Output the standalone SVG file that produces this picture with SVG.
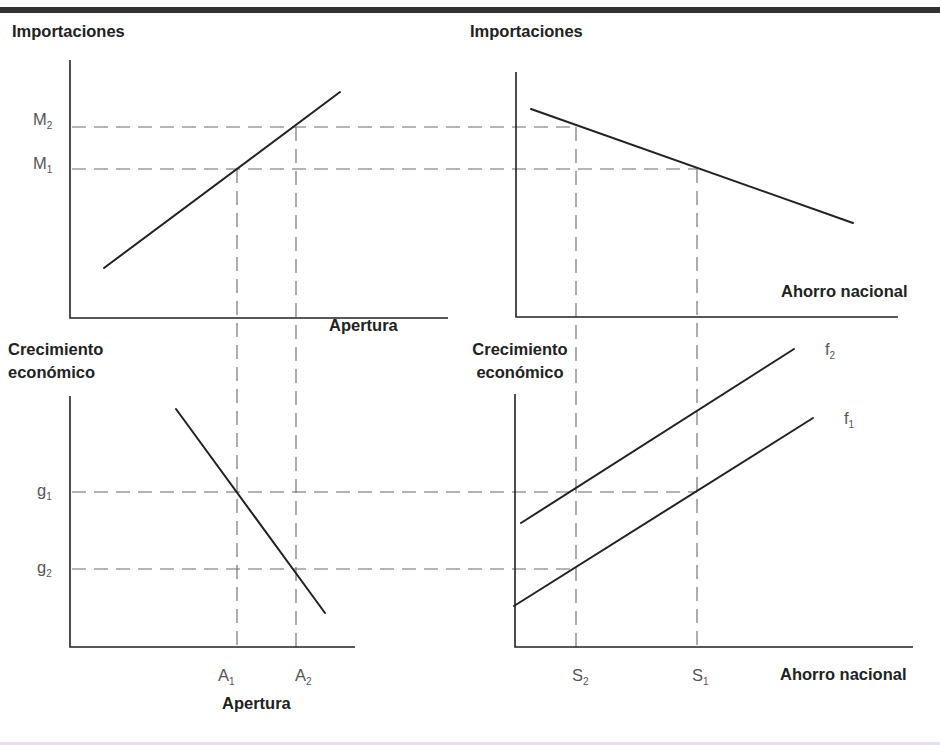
<svg xmlns="http://www.w3.org/2000/svg" width="940" height="745" viewBox="0 0 940 745">
<style>
.bg{fill:#ffffff}
.axis{stroke:#222;stroke-width:1.6;fill:none}
.curve{stroke:#222;stroke-width:2;fill:none;stroke-linecap:round}
.guide{stroke:#6a6a6a;stroke-width:1.1;fill:none;stroke-dasharray:14 8}
.ttl{font-family:"Liberation Sans",Arial,sans-serif;font-weight:bold;font-size:16.5px;fill:#222}
.lbl{font-family:"Liberation Sans",Arial,sans-serif;font-size:16.5px;fill:#555}
.sub{font-size:10px}
</style>
<rect class="bg" x="0" y="0" width="940" height="745"/>
<rect x="0" y="7" width="940" height="6" fill="#333"/>
<rect x="0" y="742" width="940" height="3" fill="#e8deef"/>

<g id="guides">
<line class="guide" x1="72" y1="127" x2="576" y2="127"/>
<line class="guide" x1="72" y1="169" x2="697" y2="169"/>
<line class="guide" x1="72" y1="492" x2="697" y2="492"/>
<line class="guide" x1="72" y1="569" x2="575" y2="569"/>
<line class="guide" x1="237" y1="169" x2="237" y2="647"/>
<line class="guide" x1="296" y1="127" x2="296" y2="647"/>
<line class="guide" x1="576" y1="127" x2="576" y2="647"/>
<line class="guide" x1="697" y1="169" x2="697" y2="647"/>
</g>

<g id="panel-top-left">
<text class="ttl" x="12" y="37">Importaciones</text>
<polyline class="axis" points="70,60 70,318 448,318"/>
<line class="curve" x1="104" y1="268" x2="340" y2="92"/>
<text class="lbl" x="33" y="125">M<tspan class="sub" dy="4">2</tspan></text>
<text class="lbl" x="33" y="169">M<tspan class="sub" dy="4">1</tspan></text>
<text class="ttl" x="329" y="331">Apertura</text>
</g>

<g id="panel-top-right">
<text class="ttl" x="470" y="37">Importaciones</text>
<polyline class="axis" points="516,72 516,317 898,317"/>
<line class="curve" x1="531" y1="109" x2="853" y2="223"/>
<text class="ttl" x="781" y="297">Ahorro nacional</text>
</g>

<g id="panel-bottom-left">
<text class="ttl" x="8" y="355">Crecimiento</text>
<text class="ttl" x="8" y="378">económico</text>
<polyline class="axis" points="70,396 70,647 355,647"/>
<line class="curve" x1="176" y1="409" x2="325" y2="613"/>
<text class="lbl" x="37" y="496">g<tspan class="sub" dy="4">1</tspan></text>
<text class="lbl" x="37" y="573">g<tspan class="sub" dy="4">2</tspan></text>
<text class="lbl" x="218" y="681">A<tspan class="sub" dy="4">1</tspan></text>
<text class="lbl" x="295" y="681">A<tspan class="sub" dy="4">2</tspan></text>
<text class="ttl" x="222" y="709">Apertura</text>
</g>

<g id="panel-bottom-right">
<text class="ttl" x="520" y="355" text-anchor="middle">Crecimiento</text>
<text class="ttl" x="520" y="378" text-anchor="middle">económico</text>
<polyline class="axis" points="515,394 515,647 913,647"/>
<line class="curve" x1="521" y1="523" x2="794" y2="349"/>
<line class="curve" x1="514" y1="606" x2="813" y2="418"/>
<text class="lbl" x="825" y="355">f<tspan class="sub" dy="4">2</tspan></text>
<text class="lbl" x="844" y="424">f<tspan class="sub" dy="4">1</tspan></text>
<text class="lbl" x="572" y="681">S<tspan class="sub" dy="4">2</tspan></text>
<text class="lbl" x="692" y="681">S<tspan class="sub" dy="4">1</tspan></text>
<text class="ttl" x="780" y="680">Ahorro nacional</text>
</g>
</svg>
